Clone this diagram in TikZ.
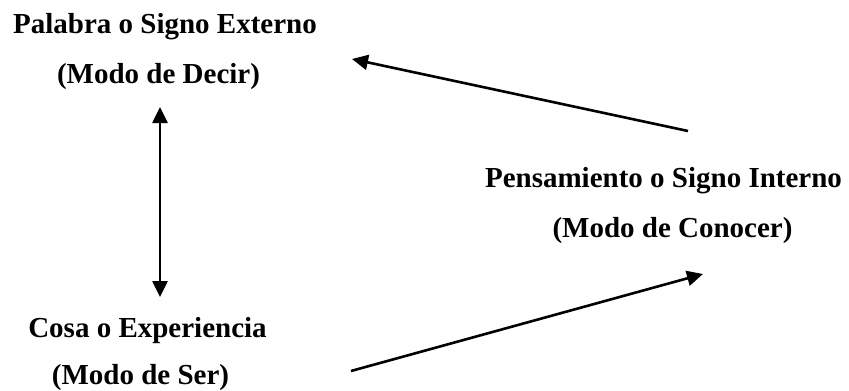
\documentclass[tikz,border=0pt]{standalone}
\usepackage{fontspec}
\setmainfont{Liberation Serif}
\usetikzlibrary{arrows.meta}

\begin{document}
\begin{tikzpicture}[x=1pt, y=-1pt,
        texto/.style={anchor=base, inner sep=0pt, font=\fontsize{29}{35}\selectfont\bfseries},
        flecha/.style={line width=2.6pt, -{Triangle[length=16pt, width=15pt]}}]
        \useasboundingbox (0,0) rectangle (849,391);

        \node[texto] (palabra) at (165,33) {Palabra o Signo Externo};
        \node[texto] (decir) at (158.5,83) {(Modo de Decir)};
        \node[texto] (pensamiento) at (663.5,187) {Pensamiento o Signo Interno};
        \node[texto] (conocer) at (672.5,237) {(Modo de Conocer)};
        \node[texto] (cosa) at (147.5,337) {Cosa o Experiencia};
        \node[texto] (ser) at (140.5,384) {(Modo de Ser)};

        \coordinate (arriba) at (160,107);
        \coordinate (abajo) at (160,297);
        \coordinate (desde1) at (688,131);
        \coordinate (hasta1) at (352,59);
        \coordinate (desde2) at (351,371);
        \coordinate (hasta2) at (703,274);

        \draw[flecha, {Triangle[length=16pt, width=15pt]}-{Triangle[length=16pt, width=15pt]}] (abajo) -- (arriba);
        \draw[flecha] (desde1) -- (hasta1);
        \draw[flecha] (desde2) -- (hasta2);
    \end{tikzpicture}
\end{document}
